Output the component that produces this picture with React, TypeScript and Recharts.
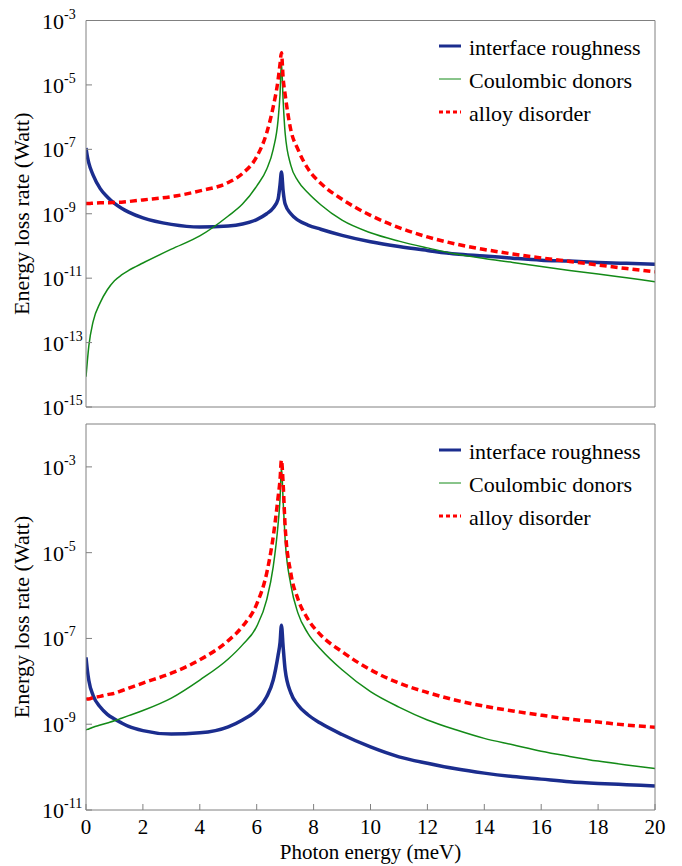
import { Legend, Line, LineChart, XAxis, YAxis } from "recharts";

const FONT = "'Liberation Serif', 'DejaVu Serif', 'Noto Serif', Tinos, 'Times New Roman', serif";
const AXIS = "#808080";

// photon energy (meV)
const ENERGY = [
  0, 0.05, 0.1, 0.25, 0.5, 0.75, 1, 1.25, 1.5, 2, 3, 4, 5, 5.5, 6, 6.35, 6.58, 6.75, 6.82, 6.87, 6.93,
  7.0, 7.2, 7.45, 7.8, 8.25, 9, 10, 11, 12, 13, 14, 15, 16, 17, 18, 19, 20,
];

// log10 of energy loss rate (Watt)
const TOP_ROUGHNESS = [
  -6.96, -7.23, -7.43, -7.8, -8.22, -8.48, -8.68, -8.83, -8.95, -9.13, -9.33, -9.41, -9.38, -9.32, -9.18,
  -9.0, -8.82, -8.55, -8.1, -7.7, -8.3, -8.7, -9.0, -9.2, -9.35, -9.48, -9.67, -9.87, -10.02, -10.14,
  -10.25, -10.31, -10.38, -10.44, -10.47, -10.51, -10.54, -10.57,
];
const TOP_COULOMB = [
  -14.06, -13.55, -13.1, -12.35, -11.76, -11.36, -11.08, -10.9, -10.76, -10.53, -10.1, -9.69, -9.07,
  -8.7, -8.14, -7.62, -7.0, -6.1, -5.3, -4.3, -5.5, -6.5, -7.5, -7.98, -8.35, -8.72, -9.2, -9.59, -9.85,
  -10.06, -10.25, -10.39, -10.51, -10.64, -10.76, -10.87, -10.99, -11.11,
];
const TOP_ALLOY = [
  -8.68, -8.68, -8.68, -8.67, -8.66, -8.66, -8.65, -8.64, -8.62, -8.57, -8.47, -8.29, -8.03, -7.75,
  -7.23, -6.49, -5.68, -4.85, -4.35, -4.0, -4.8, -5.3, -6.4, -7.0, -7.6, -8.05, -8.55, -9.05, -9.43,
  -9.72, -9.94, -10.11, -10.25, -10.37, -10.48, -10.59, -10.7, -10.8,
];

const BOTTOM_ROUGHNESS = [
  -7.44, -7.75, -7.98, -8.33, -8.6, -8.77, -8.88, -8.97, -9.05, -9.15, -9.23, -9.2, -9.06, -8.9, -8.67,
  -8.36, -7.97, -7.4, -7.1, -6.69, -7.2, -7.73, -8.27, -8.55, -8.78, -8.98, -9.24, -9.53, -9.76, -9.91,
  -10.04, -10.14, -10.22, -10.28, -10.34, -10.38, -10.41, -10.44,
];
const BOTTOM_COULOMB = [
  -9.13, -9.12, -9.11, -9.07, -9.02, -8.97, -8.92, -8.86, -8.8, -8.68, -8.39, -7.97, -7.48, -7.15, -6.72,
  -6.1, -5.33, -4.35, -3.75, -3.0, -3.8, -4.7, -5.75, -6.41, -6.88, -7.25, -7.73, -8.24, -8.6, -8.9,
  -9.13, -9.33, -9.48, -9.63, -9.75, -9.86, -9.95, -10.03,
];
const BOTTOM_ALLOY = [
  -8.42, -8.41, -8.41, -8.38, -8.35, -8.31, -8.28, -8.22, -8.16, -8.04, -7.81, -7.5, -7.05, -6.72, -6.2,
  -5.48, -4.63, -3.72, -3.3, -2.84, -3.4, -4.39, -5.48, -6.08, -6.55, -6.92, -7.31, -7.73, -8.04, -8.26,
  -8.44, -8.58, -8.69, -8.79, -8.88, -8.95, -9.02, -9.07,
];

const X_TICKS = [0, 2, 4, 6, 8, 10, 12, 14, 16, 18, 20];
const TOP_Y_TICKS = [1e-15, 1e-13, 1e-11, 1e-9, 1e-7, 1e-5, 1e-3];
const BOTTOM_Y_TICKS = [1e-11, 1e-9, 1e-7, 1e-5, 1e-3];

const SERIES = [
  { key: "roughness", name: "interface roughness", color: "#1b2d8e", width: 3.5, dash: undefined },
  { key: "coulomb", name: "Coulombic donors", color: "#138a17", width: 1.5, dash: undefined },
  { key: "alloy", name: "alloy disorder", color: "#ff0000", width: 3.5, dash: "7 4" },
];

const buildRows = (r: number[], c: number[], a: number[]) =>
  ENERGY.map((e, i) => ({ energy: e, roughness: 10 ** r[i], coulomb: 10 ** c[i], alloy: 10 ** a[i] }));

const topRows = buildRows(TOP_ROUGHNESS, TOP_COULOMB, TOP_ALLOY);
const bottomRows = buildRows(BOTTOM_ROUGHNESS, BOTTOM_COULOMB, BOTTOM_ALLOY);

function PowerTick(props: any) {
  const { x, y, payload } = props;
  const exp = Math.round(Math.log10(payload.value));
  return (
    <text x={x} y={y + 8} textAnchor="start" fontFamily={FONT} fontSize={22} fill="#000">
      <tspan>10</tspan>
      <tspan dy={-10} fontSize={14}>
        {exp}
      </tspan>
    </text>
  );
}

function YLabel(props: any) {
  const vb = props.viewBox || { x: 26, y: 0, width: 60, height: 400 };
  const x = vb.x + 3;
  const y = vb.y + vb.height / 2;
  return (
    <text x={x} y={y} transform={`rotate(-90, ${x}, ${y})`} textAnchor="middle" fontFamily={FONT} fontSize={22} fill="#000">
      Energy loss rate (Watt)
    </text>
  );
}

function XLabel(props: any) {
  const vb = props.viewBox || { x: 86, y: 390, width: 569, height: 56 };
  return (
    <text x={vb.x + vb.width / 2} y={vb.y + 49} textAnchor="middle" fontFamily={FONT} fontSize={21} fill="#000">
      Photon energy (meV)
    </text>
  );
}

function LegendBox() {
  return (
    <div style={{ fontFamily: FONT, fontSize: 22, color: "#000" }}>
      {SERIES.map((s) => (
        <div key={s.key} style={{ display: "flex", alignItems: "center", height: 33 }}>
          <svg width={30} height={12}>
            <line x1={0} x2={22} y1={4} y2={4} stroke={s.color} strokeWidth={s.width - 0.5} strokeDasharray={s.dash ? "4 3" : undefined} />
          </svg>
          <span>{s.name}</span>
        </div>
      ))}
    </div>
  );
}

interface PanelProps {
  rows: any[];
  height: number;
  top: number;
  bottom: number;
  yDomain: number[];
  yTicks: number[];
  xLabels: boolean;
  legendTop: number;
}

function Panel({ rows, height, top, bottom, yDomain, yTicks, xLabels, legendTop }: PanelProps) {
  return (
    <LineChart width={682} height={height} data={rows} margin={{ top, right: 26, bottom, left: 26 }}>
      <XAxis
        dataKey="energy"
        type="number"
        domain={[0, 20]}
        ticks={X_TICKS}
        interval={0}
        allowDataOverflow
        height={xLabels ? 56 : 1}
        tickSize={-6}
        tickMargin={15}
        tick={xLabels ? { fontFamily: FONT, fontSize: 21, fill: "#000" } : false}
        tickLine={{ stroke: AXIS }}
        axisLine={{ stroke: AXIS }}
        label={xLabels ? <XLabel /> : undefined}
      />
      <XAxis
        xAxisId="top"
        orientation="top"
        dataKey="energy"
        type="number"
        domain={[0, 20]}
        ticks={X_TICKS}
        interval={0}
        allowDataOverflow
        height={1}
        tickSize={-6}
        tick={false}
        tickLine={{ stroke: AXIS }}
        axisLine={{ stroke: AXIS }}
      />
      <YAxis
        type="number"
        scale="log"
        domain={yDomain}
        ticks={yTicks}
        interval={0}
        allowDataOverflow
        width={60}
        tickSize={-6}
        tickMargin={50}
        tick={<PowerTick />}
        tickLine={{ stroke: AXIS }}
        axisLine={{ stroke: AXIS }}
        label={<YLabel />}
      />
      <YAxis
        yAxisId="right"
        orientation="right"
        type="number"
        scale="log"
        domain={yDomain}
        ticks={yTicks}
        interval={0}
        allowDataOverflow
        width={1}
        tickSize={-6}
        tick={false}
        tickLine={{ stroke: AXIS }}
        axisLine={{ stroke: AXIS }}
      />
      <Legend
        layout="vertical"
        align="center"
        verticalAlign="middle"
        content={<LegendBox />}
        wrapperStyle={{ left: 439, top: legendTop, width: 230, height: 99 }}
      />
      {SERIES.map((s) => (
        <Line
          key={s.key}
          dataKey={s.key}
          name={s.name}
          type="monotone"
          stroke={s.color}
          strokeWidth={s.width}
          strokeDasharray={s.dash}
          dot={false}
          activeDot={false}
          isAnimationActive={false}
        />
      ))}
    </LineChart>
  );
}

export default function App() {
  return (
    <div>
      <style>{"body{margin:0}"}</style>
      <Panel rows={topRows} height={420} top={19.5} bottom={12} yDomain={[1e-15, 1e-3]} yTicks={TOP_Y_TICKS} xLabels={false} legendTop={31.5} />
      <Panel rows={bottomRows} height={446} top={3} bottom={0} yDomain={[1e-11, 1e-2]} yTicks={BOTTOM_Y_TICKS} xLabels legendTop={15.5} />
    </div>
  );
}
